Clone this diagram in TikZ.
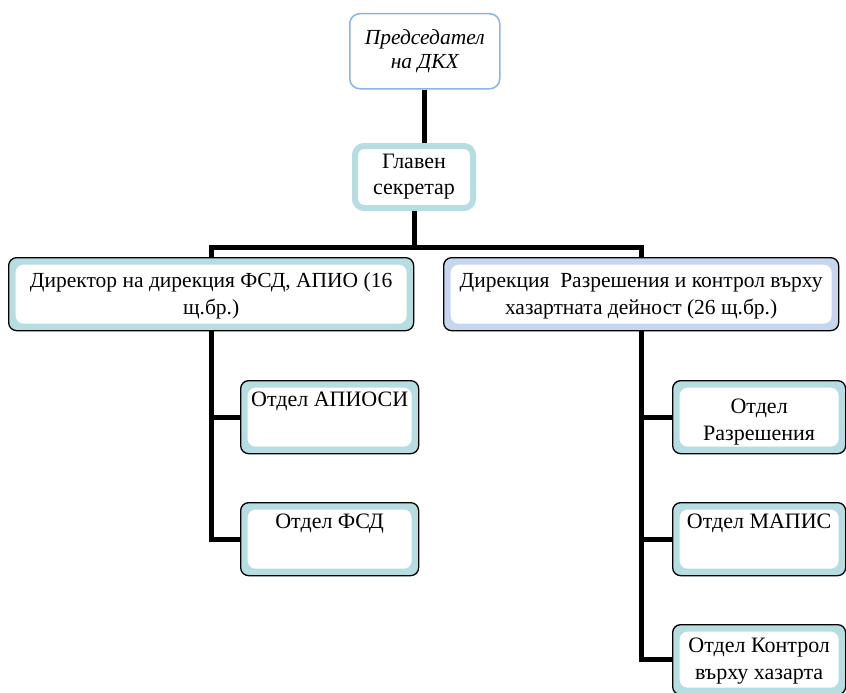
\documentclass[tikz,border=0pt]{standalone}
\usepackage{fontspec}
\setmainfont{Liberation Serif}
\usetikzlibrary{positioning}

\definecolor{bandteal}{RGB}{182,221,226}
\definecolor{bandblue}{RGB}{198,214,238}
\definecolor{chairblue}{RGB}{141,179,226}

\tikzset{
  conn/.style={line width=5pt, black},
  whitecore/.style={path picture={
      \fill[white] ([shift={(7pt,-7pt)}]path picture bounding box.north west)
        rectangle ([shift={(-7pt,7pt)}]path picture bounding box.south east);}},
  boxed/.style={draw=black, line width=1.3pt, rounded corners=8pt, fill=#1,
    whitecore, align=center, inner xsep=4pt, inner ysep=0pt},
  dirbox/.style={boxed=#1, text height=57pt, text depth=16pt, anchor=north west},
  deptbox/.style={boxed=bandteal, minimum width=173pt, text height=26pt,
    text depth=47pt, anchor=north west, font=\fontsize{22}{27}\selectfont}
}

\begin{document}
\begin{tikzpicture}[x=1pt, y=-1pt, font=\fontsize{21.5}{27}\selectfont]

\useasboundingbox (0,0) rectangle (846,693);

% Top of the chart
\node[draw=chairblue, line width=1.5pt, rounded corners=10pt, fill=white,
  minimum width=150pt, minimum height=75pt, align=center, anchor=north west,
  font=\fontsize{21.5}{24}\selectfont\itshape]
  (chair) at (349,13) {Председател\\на ДКХ};

\node[draw=bandteal, line width=6pt, rounded corners=9pt, fill=white,
  minimum width=118pt, minimum height=62pt, align=center, anchor=north west,
  inner sep=0pt, font=\fontsize{22}{26}\selectfont]
  (sec) at (352,143) {Главен\\секретар};

% Directorates
\node[dirbox=bandteal, minimum width=405pt] (dirA) at (8,257)
  {Директор на дирекция ФСД, АПИО (16\\щ.бр.)};
\node[dirbox=bandblue, minimum width=395pt] (dirB) at (443,257)
  {Дирекция\ \ Разрешения и контрол върху\\хазартната дейност (26 щ.бр.)};

% Departments
\node[deptbox, minimum width=178pt] (apiosi) at (240,380) {Отдел АПИОСИ};
\node[deptbox, minimum width=178pt] (fsd) at (240,502) {Отдел ФСД};

\node[deptbox, text height=60pt, text depth=13pt] (razr) at (672,380)
  {Отдел\\Разрешения};
\node[deptbox] (mapis) at (672,502) {Отдел МАПИС};
\node[deptbox, text height=55pt, text depth=15pt] (kontrol) at (672,624)
  {Отдел Контрол\\върху хазарта};

% Connectors
\draw[conn] (chair.south) -- (chair.south |- sec.north);
\path (sec.south) ++(0,36) coordinate (bus);
\draw[conn] (sec.south) -- (bus);
\draw[conn] (dirA.north) |- (bus) -| (dirB.north);

\draw[conn] (dirA.south) |- (apiosi.west);
\draw[conn] (dirA.south) |- (fsd.west);

\draw[conn] (dirB.south) |- (razr.west);
\draw[conn] (dirB.south) |- (mapis.west);
\draw[conn] (dirB.south) |- (kontrol.west);

\end{tikzpicture}
\end{document}
